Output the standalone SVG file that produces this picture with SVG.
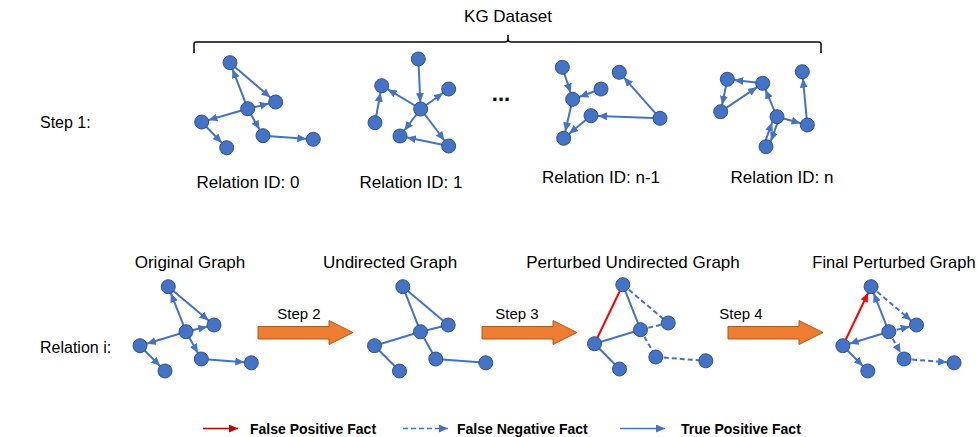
<svg xmlns="http://www.w3.org/2000/svg" width="977" height="437" viewBox="0 0 977 437">
<style>
text{font-family:"Liberation Sans",Arial,sans-serif;fill:#000}
.lbl{font-size:16px}
.hd{font-size:17px;text-anchor:middle}
.rid{font-size:17px;text-anchor:middle}
.stp{font-size:15px;text-anchor:middle}
.leg{font-size:14px;font-weight:bold}
.n{fill:#4472C4;stroke:#2F528F;stroke-width:1}
.e{stroke:#4472C4;stroke-width:2;fill:none}
.ea{stroke:#4472C4;stroke-width:2;fill:none;marker-end:url(#ab)}
.d{stroke:#4472C4;stroke-width:2;fill:none;stroke-dasharray:5 3}
.da{stroke:#4472C4;stroke-width:2;fill:none;stroke-dasharray:5 3;marker-end:url(#ab)}
.r{stroke:#FF0000;stroke-width:2;fill:none}
.ra{stroke:#FF0000;stroke-width:2;fill:none;marker-end:url(#ar)}
.oa{fill:#ED7D31;stroke:#AE5A21;stroke-width:1}
</style>
<defs>
<marker id="ab" markerUnits="userSpaceOnUse" markerWidth="9" markerHeight="8" refX="16" refY="4" orient="auto"><path d="M0,0 L9,4 L0,8 Z" fill="#4472C4"/></marker>
<marker id="ar" markerUnits="userSpaceOnUse" markerWidth="9" markerHeight="8" refX="16" refY="4" orient="auto"><path d="M0,0 L9,4 L0,8 Z" fill="#FF0000"/></marker>
<marker id="abl" markerUnits="userSpaceOnUse" markerWidth="9" markerHeight="8" refX="9" refY="4" orient="auto"><path d="M0,0 L9,4 L0,8 Z" fill="#4472C4"/></marker>
<marker id="arl" markerUnits="userSpaceOnUse" markerWidth="9" markerHeight="8" refX="9" refY="4" orient="auto"><path d="M0,0 L9,4 L0,8 Z" fill="#C00000"/></marker>
</defs>

<!-- header -->
<g id="header">
<text x="508" y="22" class="hd">KG Dataset</text>
<path d="M194,53 V44 Q194,42 196,42 H505 Q508,42 508,39 V35 M508,39 Q508,42 511,42 H819 Q821,42 821,44 V53" fill="none" stroke="#000" stroke-width="1.5"/>
<text x="40" y="128" class="lbl">Step 1:</text>
<text x="40" y="353" class="lbl">Relation i:</text>
<text x="501" y="101" style="font-size:22px;font-weight:bold;text-anchor:middle">...</text>
</g>

<!-- labels -->
<g id="labels">
<text x="248" y="188" class="rid">Relation ID: 0</text>
<text x="411" y="188" class="rid">Relation ID: 1</text>
<text x="601" y="183" class="rid">Relation ID: n-1</text>
<text x="782" y="183" class="rid">Relation ID: n</text>
<text x="190" y="268" class="hd">Original Graph</text>
<text x="390" y="268" class="hd">Undirected Graph</text>
<text x="633" y="268" class="hd">Perturbed Undirected Graph</text>
<text x="894" y="268" class="hd" style="font-size:16.5px">Final Perturbed Graph</text>
</g>

<!-- step arrows -->
<g id="step2"><path class="oa" d="M258,326.5 H329 V320.5 L353,332.5 L329,344.5 V339 H258 Z"/><text x="299" y="319" class="stp">Step 2</text></g>
<g id="step3"><path class="oa" d="M482,326.5 H553 V320.5 L577,332.5 L553,344.5 V339 H482 Z"/><text x="517" y="319" class="stp">Step 3</text></g>
<g id="step4"><path class="oa" d="M728,326.5 H799 V320.5 L823,332.5 L799,344.5 V339 H728 Z"/><text x="741" y="319" class="stp">Step 4</text></g>

<!-- connectors -->
<g id="connectors">
<!-- relation 0 -->
<line class="ea" x1="247.7" y1="108.7" x2="230" y2="62.7"/>
<line class="ea" x1="230" y1="62.7" x2="275.7" y2="102"/>
<line class="ea" x1="247.7" y1="108.7" x2="275.7" y2="102"/>
<line class="ea" x1="247.7" y1="108.7" x2="201.7" y2="122"/>
<line class="ea" x1="201.7" y1="122" x2="226.7" y2="147.7"/>
<line class="ea" x1="247.7" y1="108.7" x2="263" y2="135.7"/>
<line class="ea" x1="263" y1="135.7" x2="313.3" y2="139.3"/>
<!-- relation 1 -->
<line class="ea" x1="418.3" y1="59" x2="420.7" y2="109"/>
<line class="ea" x1="420.7" y1="109" x2="381.7" y2="85.7"/>
<line class="ea" x1="420.7" y1="109" x2="448.7" y2="89"/>
<line class="ea" x1="375" y1="122.7" x2="381.7" y2="85.7"/>
<line class="ea" x1="420.7" y1="109" x2="400" y2="136"/>
<line class="ea" x1="420.7" y1="109" x2="448.7" y2="146"/>
<line class="ea" x1="448.7" y1="146" x2="400" y2="136"/>
<!-- relation n-1 -->
<line class="ea" x1="562.3" y1="67.3" x2="572.7" y2="99.3"/>
<line class="ea" x1="601" y1="89" x2="572.7" y2="99.3"/>
<line class="ea" x1="572.7" y1="99.3" x2="563.7" y2="138.3"/>
<line class="ea" x1="591" y1="115.7" x2="563.7" y2="138.3"/>
<line class="ea" x1="660" y1="118.3" x2="591" y2="115.7"/>
<line class="ea" x1="660" y1="118.3" x2="619.3" y2="72.3"/>
<!-- relation n -->
<line class="ea" x1="762.7" y1="83.3" x2="727.3" y2="79.3"/>
<line class="ea" x1="727.3" y1="79.3" x2="720.7" y2="111.7"/>
<line class="ea" x1="720.7" y1="111.7" x2="762.7" y2="83.3"/>
<line class="ea" x1="777" y1="116.7" x2="762.7" y2="83.3"/>
<line class="ea" x1="777" y1="116.7" x2="807.3" y2="125"/>
<line class="ea" x1="807.3" y1="125" x2="802.3" y2="71.7"/>
<line class="ea" x1="763.6" y1="145.8" x2="774.6" y2="115.8"/>
<line class="ea" x1="779.4" y1="117.6" x2="768.4" y2="147.6"/>
<!-- original graph -->
<line class="ea" x1="186" y1="331.7" x2="168.3" y2="286.7"/>
<line class="ea" x1="168.3" y1="286.7" x2="214" y2="325"/>
<line class="ea" x1="186" y1="331.7" x2="214" y2="325"/>
<line class="ea" x1="186" y1="331.7" x2="140" y2="345.7"/>
<line class="ea" x1="140" y1="345.7" x2="165" y2="371"/>
<line class="ea" x1="186" y1="331.7" x2="201.3" y2="359"/>
<line class="ea" x1="201.3" y1="359" x2="251.3" y2="362.8"/>
<!-- undirected graph -->
<line class="e" x1="420.5" y1="331.7" x2="402.8" y2="286.7"/>
<line class="e" x1="402.8" y1="286.7" x2="448.2" y2="325"/>
<line class="e" x1="420.5" y1="331.7" x2="448.2" y2="325"/>
<line class="e" x1="420.5" y1="331.7" x2="374.5" y2="345.7"/>
<line class="e" x1="374.5" y1="345.7" x2="399.5" y2="371"/>
<line class="e" x1="420.5" y1="331.7" x2="435.8" y2="359"/>
<line class="e" x1="435.8" y1="359" x2="485.8" y2="362.8"/>
<!-- perturbed undirected graph -->
<line class="r" x1="594.5" y1="343.7" x2="622.8" y2="284.7"/>
<line class="e" x1="640.5" y1="329.7" x2="622.8" y2="284.7"/>
<line class="d" x1="622.8" y1="284.7" x2="668.2" y2="323"/>
<line class="d" x1="640.5" y1="329.7" x2="668.2" y2="323"/>
<line class="e" x1="640.5" y1="329.7" x2="594.5" y2="343.7"/>
<line class="e" x1="594.5" y1="343.7" x2="619.5" y2="369"/>
<line class="d" x1="640.5" y1="329.7" x2="655.8" y2="357"/>
<line class="d" x1="655.8" y1="357" x2="705.8" y2="360.8"/>
<!-- final perturbed graph -->
<line class="ra" x1="842.8" y1="345.7" x2="871.1" y2="286.7"/>
<line class="ea" x1="888.8" y1="331.7" x2="871.1" y2="286.7"/>
<line class="da" x1="871.1" y1="286.7" x2="916.5" y2="325"/>
<line class="da" x1="888.8" y1="331.7" x2="916.5" y2="325"/>
<line class="ea" x1="888.8" y1="331.7" x2="842.8" y2="345.7"/>
<line class="ea" x1="842.8" y1="345.7" x2="867.8" y2="371"/>
<line class="da" x1="888.8" y1="331.7" x2="904.1" y2="359"/>
<line class="da" x1="904.1" y1="359" x2="954.1" y2="362.8"/>
</g>

<!-- nodes: relation 0 -->
<g id="r0-n1"><circle class="n" cx="230" cy="62.7" r="7"/></g>
<g id="r0-n2"><circle class="n" cx="275.7" cy="102" r="7"/></g>
<g id="r0-n3"><circle class="n" cx="247.7" cy="108.7" r="7"/></g>
<g id="r0-n4"><circle class="n" cx="201.7" cy="122" r="7"/></g>
<g id="r0-n5"><circle class="n" cx="226.7" cy="147.7" r="7"/></g>
<g id="r0-n6"><circle class="n" cx="263" cy="135.7" r="7"/></g>
<g id="r0-n7"><circle class="n" cx="313.3" cy="139.3" r="7"/></g>
<!-- relation 1 -->
<g id="r1-n1"><circle class="n" cx="418.3" cy="59" r="7"/></g>
<g id="r1-n2"><circle class="n" cx="381.7" cy="85.7" r="7"/></g>
<g id="r1-n3"><circle class="n" cx="448.7" cy="89" r="7"/></g>
<g id="r1-n4"><circle class="n" cx="420.7" cy="109" r="7"/></g>
<g id="r1-n5"><circle class="n" cx="375" cy="122.7" r="7"/></g>
<g id="r1-n6"><circle class="n" cx="400" cy="136" r="7"/></g>
<g id="r1-n7"><circle class="n" cx="448.7" cy="146" r="7"/></g>
<!-- relation n-1 -->
<g id="rn1-n1"><circle class="n" cx="562.3" cy="67.3" r="7"/></g>
<g id="rn1-n2"><circle class="n" cx="619.3" cy="72.3" r="7"/></g>
<g id="rn1-n3"><circle class="n" cx="601" cy="89" r="7"/></g>
<g id="rn1-n4"><circle class="n" cx="572.7" cy="99.3" r="7"/></g>
<g id="rn1-n5"><circle class="n" cx="591" cy="115.7" r="7"/></g>
<g id="rn1-n6"><circle class="n" cx="660" cy="118.3" r="7"/></g>
<g id="rn1-n7"><circle class="n" cx="563.7" cy="138.3" r="7"/></g>
<!-- relation n -->
<g id="rn-n1"><circle class="n" cx="727.3" cy="79.3" r="7"/></g>
<g id="rn-n2"><circle class="n" cx="762.7" cy="83.3" r="7"/></g>
<g id="rn-n3"><circle class="n" cx="802.3" cy="71.7" r="7"/></g>
<g id="rn-n4"><circle class="n" cx="720.7" cy="111.7" r="7"/></g>
<g id="rn-n5"><circle class="n" cx="777" cy="116.7" r="7"/></g>
<g id="rn-n6"><circle class="n" cx="807.3" cy="125" r="7"/></g>
<g id="rn-n7"><circle class="n" cx="766" cy="146.7" r="7"/></g>
<!-- original graph -->
<g id="og-n1"><circle class="n" cx="168.3" cy="286.7" r="7"/></g>
<g id="og-n2"><circle class="n" cx="214" cy="325" r="7"/></g>
<g id="og-n3"><circle class="n" cx="186" cy="331.7" r="7"/></g>
<g id="og-n4"><circle class="n" cx="140" cy="345.7" r="7"/></g>
<g id="og-n5"><circle class="n" cx="165" cy="371" r="7"/></g>
<g id="og-n6"><circle class="n" cx="201.3" cy="359" r="7"/></g>
<g id="og-n7"><circle class="n" cx="251.3" cy="362.8" r="7"/></g>
<!-- undirected graph -->
<g id="ug-n1"><circle class="n" cx="402.8" cy="286.7" r="7"/></g>
<g id="ug-n2"><circle class="n" cx="448.2" cy="325" r="7"/></g>
<g id="ug-n3"><circle class="n" cx="420.5" cy="331.7" r="7"/></g>
<g id="ug-n4"><circle class="n" cx="374.5" cy="345.7" r="7"/></g>
<g id="ug-n5"><circle class="n" cx="399.5" cy="371" r="7"/></g>
<g id="ug-n6"><circle class="n" cx="435.8" cy="359" r="7"/></g>
<g id="ug-n7"><circle class="n" cx="485.8" cy="362.8" r="7"/></g>
<!-- perturbed undirected graph -->
<g id="pg-n1"><circle class="n" cx="622.8" cy="284.7" r="7"/></g>
<g id="pg-n2"><circle class="n" cx="668.2" cy="323" r="7"/></g>
<g id="pg-n3"><circle class="n" cx="640.5" cy="329.7" r="7"/></g>
<g id="pg-n4"><circle class="n" cx="594.5" cy="343.7" r="7"/></g>
<g id="pg-n5"><circle class="n" cx="619.5" cy="369" r="7"/></g>
<g id="pg-n6"><circle class="n" cx="655.8" cy="357" r="7"/></g>
<g id="pg-n7"><circle class="n" cx="705.8" cy="360.8" r="7"/></g>
<!-- final perturbed graph -->
<g id="fg-n1"><circle class="n" cx="871.1" cy="286.7" r="7"/></g>
<g id="fg-n2"><circle class="n" cx="916.5" cy="325" r="7"/></g>
<g id="fg-n3"><circle class="n" cx="888.8" cy="331.7" r="7"/></g>
<g id="fg-n4"><circle class="n" cx="842.8" cy="345.7" r="7"/></g>
<g id="fg-n5"><circle class="n" cx="867.8" cy="371" r="7"/></g>
<g id="fg-n6"><circle class="n" cx="904.1" cy="359" r="7"/></g>
<g id="fg-n7"><circle class="n" cx="954.1" cy="362.8" r="7"/></g>

<!-- legend -->
<g id="legend">
<line x1="203" y1="428.5" x2="238" y2="428.5" stroke="#C00000" stroke-width="1.5" marker-end="url(#arl)"/>
<text x="250" y="433.5" class="leg">False Positive Fact</text>
<line x1="403" y1="428.5" x2="448" y2="428.5" stroke="#4472C4" stroke-width="1.5" stroke-dasharray="5 3" marker-end="url(#abl)"/>
<text x="457" y="433.5" class="leg">False Negative Fact</text>
<line x1="620" y1="428.5" x2="665" y2="428.5" stroke="#4472C4" stroke-width="1.5" marker-end="url(#abl)"/>
<text x="681" y="433.5" class="leg">True Positive Fact</text>
</g>
</svg>
